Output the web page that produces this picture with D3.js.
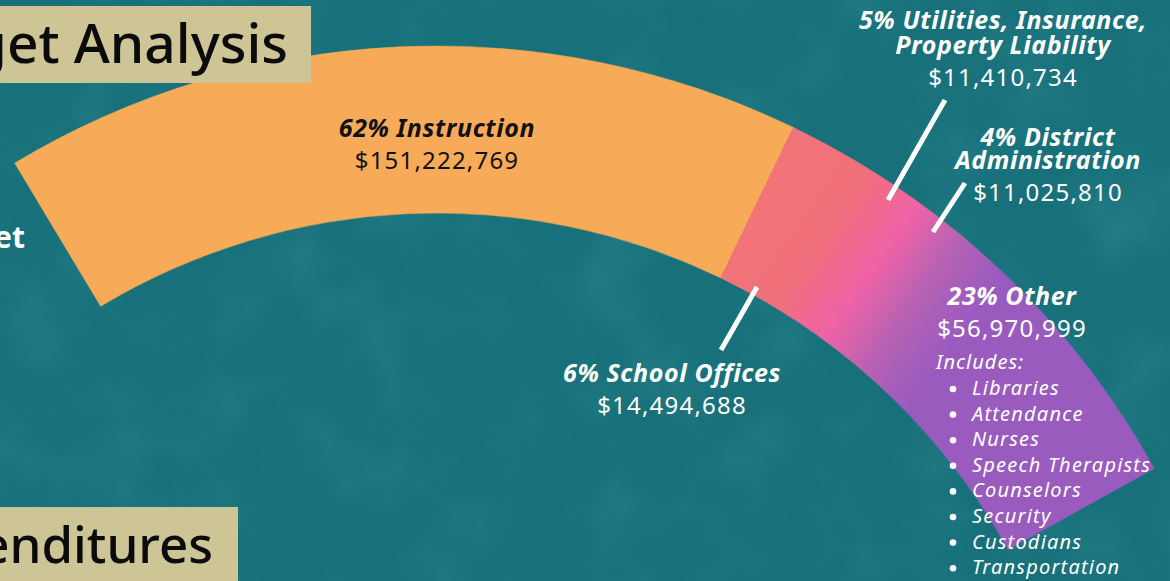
<!DOCTYPE html>
<html lang="en">
<head>
<meta charset="utf-8">
<script src="https://cdn.jsdelivr.net/npm/d3@7"></script>
<style>
  body { margin: 0; background: #17707a; overflow: hidden; }
  svg { display: block; font-family: "Noto Sans", Lato, sans-serif; }
</style>
</head>
<body>
<svg width="1170" height="581"></svg>
<script>
// budget slices
var categories = ["Instruction", "School Offices", "Utilities, Insurance, Property Liability", "District Administration", "Other"];
var amounts = [151222769, 14494688, 11410734, 11025810, 56970999];
var percents = [62, 6, 5, 4, 23];
var colors = ["#f7aa57", "#f06f7b", "#ef63a6", "#b562b4", "#9a5bbf"];
var otherItems = ["Libraries", "Attendance", "Nurses", "Speech Therapists", "Counselors", "Security", "Custodians", "Transportation"];

var svg = d3.select("svg");
var fmt = d3.format("$,");

var cx = 437, cy = 866, rIn = 653, rOut = 820;
var rad = Math.PI / 180;

// background texture
var defs = svg.append("defs");
var f = defs.append("filter").attr("id", "tex").attr("x", 0).attr("y", 0).attr("width", "100%").attr("height", "100%");
f.append("feTurbulence").attr("type", "fractalNoise").attr("baseFrequency", 0.012).attr("numOctaves", 3).attr("seed", 4);
f.append("feColorMatrix").attr("values", "0 0 0 0 0.05  0 0 0 0 0.33  0 0 0 0 0.37  0 0 0 1.1 -0.45");

svg.append("rect").attr("width", 1170).attr("height", 581).attr("fill", "#17707a");
svg.append("rect").attr("width", 1170).attr("height", 581).attr("filter", "url(#tex)").attr("opacity", 0.5);

var pie = d3.pie().sort(null)
  .startAngle(-31 * rad)
  .endAngle(61 * rad);
var arcs = pie(amounts);
var arc = d3.arc().innerRadius(rIn).outerRadius(rOut);

// blend the pink/purple slices into one another along the arc
var rMid = (rIn + rOut) / 2;
var a0 = arcs[1].startAngle, a1 = arcs[4].startAngle + 5 * rad;
var grad = defs.append("linearGradient").attr("id", "blend")
  .attr("gradientUnits", "userSpaceOnUse")
  .attr("x1", rMid * Math.sin(a0)).attr("y1", -rMid * Math.cos(a0))
  .attr("x2", rMid * Math.sin(a1)).attr("y2", -rMid * Math.cos(a1));
[[0, "#f37478"], [0.3, colors[1]], [0.55, colors[2]], [0.78, colors[3]], [1, colors[4]]].forEach(function (s) {
  grad.append("stop").attr("offset", s[0]).attr("stop-color", s[1]);
});

var g = svg.append("g").attr("transform", "translate(" + cx + "," + cy + ")");
g.selectAll("path")
  .data(arcs)
  .enter()
  .append("path")
  .attr("d", arc)
  .attr("fill", function (d, i) { return i === 0 ? colors[0] : "url(#blend)"; })
  .attr("stroke", function (d, i) { return i === 0 ? colors[0] : "url(#blend)"; })
  .attr("stroke-width", 0.5);

// leader lines
var leaders = [
  [[757, 287], [721, 350]],
  [[888, 200], [945, 100]],
  [[933, 232], [965, 183]]
];
svg.selectAll(".leader")
  .data(leaders)
  .enter()
  .append("line")
  .attr("class", "leader")
  .attr("x1", function (d) { return d[0][0]; })
  .attr("y1", function (d) { return d[0][1]; })
  .attr("x2", function (d) { return d[1][0]; })
  .attr("y2", function (d) { return d[1][1]; })
  .attr("stroke", "white")
  .attr("stroke-width", 5);

function label(x, y, lines, step, amount, fill) {
  var t = svg.append("g").attr("fill", fill).attr("text-anchor", "middle");
  lines.forEach(function (s, k) {
    t.append("text")
      .attr("x", x).attr("y", y + k * step)
      .attr("font-size", 25).attr("font-weight", 700).attr("font-style", "italic")
      .attr("letter-spacing", 0.6)
      .text(s);
  });
  t.append("text")
    .attr("x", x).attr("y", y + (lines.length - 1) * step + 32)
    .attr("font-size", 24).attr("letter-spacing", 1.2)
    .text(fmt(amount));
}

label(437, 137, [percents[0] + "% " + categories[0]], 0, amounts[0], "#111");
label(672, 382, [percents[1] + "% " + categories[1]], 0, amounts[1], "white");
label(1003, 29, [percents[2] + "% Utilities, Insurance,", "Property Liability"], 25, amounts[2], "white");
label(1048, 146, [percents[3] + "% District", "Administration"], 23, amounts[3], "white");
label(1012, 305, [percents[4] + "% " + categories[4]], 0, amounts[4], "white");

svg.append("text")
  .attr("x", 936).attr("y", 369)
  .attr("fill", "white").attr("font-size", 20).attr("font-style", "italic")
  .attr("letter-spacing", 1)
  .text("Includes:");

var items = svg.selectAll(".item")
  .data(otherItems)
  .enter()
  .append("g")
  .attr("class", "item")
  .attr("transform", function (d, i) { return "translate(0," + (395 + i * 25.6) + ")"; });
items.append("circle").attr("cx", 953).attr("cy", -6).attr("r", 3.3).attr("fill", "white");
items.append("text")
  .attr("x", 972)
  .attr("fill", "white").attr("font-size", 20).attr("font-style", "italic")
  .attr("letter-spacing", 1.2)
  .text(function (d) { return d; });

// title boxes
svg.append("rect").attr("x", 0).attr("y", 6).attr("width", 311).attr("height", 77).attr("fill", "#cdc596");
svg.append("text").attr("x", 288).attr("y", 63).attr("text-anchor", "end")
  .attr("font-size", 55).attr("font-weight", 500).attr("fill", "#0b0b0b")
  .text("Budget Analysis");

svg.append("rect").attr("x", 0).attr("y", 507).attr("width", 238).attr("height", 80).attr("fill", "#cdc596");
svg.append("text").attr("x", 213).attr("y", 563).attr("text-anchor", "end")
  .attr("font-size", 51).attr("font-weight", 500).attr("fill", "#0b0b0b")
  .text("Expenditures");

svg.append("text").attr("x", 25).attr("y", 248).attr("text-anchor", "end")
  .attr("font-size", 30).attr("font-weight", 700).attr("fill", "white")
  .text("Budget");
</script>
</body>
</html>
